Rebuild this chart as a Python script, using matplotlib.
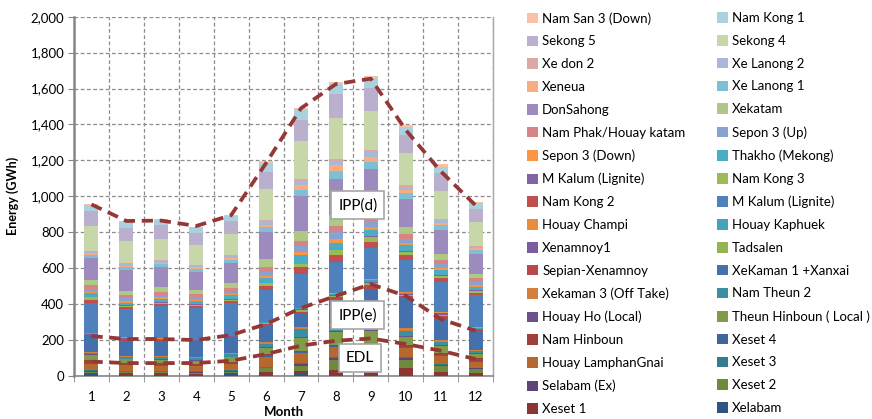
import matplotlib
matplotlib.use("Agg")
import matplotlib.pyplot as plt
from matplotlib.patches import Patch
from matplotlib.ticker import FuncFormatter, MultipleLocator
import numpy as np

plt.rcParams['font.family'] = ['Lato', 'DejaVu Sans']

months = ["1", "2", "3", "4", "5", "6", "7", "8", "9", "10", "11", "12"]

# Series values (GWh), stacked bottom -> top
xelabam = [11, 8, 8, 8, 9, 6, 11, 8, 8, 8, 8, 6]
xeset1 = [7, 6, 6, 5, 7, 18, 18, 28, 35, 37, 13, 9]
xeset2 = [6, 8, 7, 6, 8, 18, 28, 55, 55, 46, 37, 22]
selabam_ex = [4, 3, 3, 3, 4, 5, 9, 9, 9, 9, 6, 5]
xeset3 = [5, 4, 4, 4, 5, 5, 5, 6, 6, 5, 5, 4]
houay_lamphangnai = [33, 30, 30, 28, 32, 55, 55, 55, 55, 50, 43, 31]
xeset4 = [4, 4, 4, 4, 4, 5, 5, 5, 5, 5, 5, 4]
nam_hinboun = [18, 9, 9, 8, 10, 9, 7, 8, 10, 13, 9, 18]
theun_hinboun_local = [28, 20, 20, 18, 25, 35, 74, 70, 70, 46, 42, 24]
houay_ho_local = [4, 4, 4, 4, 4, 4, 4, 5, 5, 5, 4, 3]
nam_theun2 = [9, 10, 11, 10, 13, 18, 46, 35, 35, 28, 18, 14]
xekaman3 = [7, 7, 7, 6, 7, 13, 9, 6, 7, 13, 13, 3]
xekaman1_xanxai = [84, 83, 83, 87, 81, 89, 73, 140, 187, 172, 117, 100]
sepian_xenamnoy = [8, 8, 5, 4, 6, 9, 15, 12, 20, 11, 16, 11]
tadsalen = [3, 3, 2, 2, 3, 4, 6, 5, 8, 5, 6, 4]
xenamnoy1 = [3, 3, 2, 2, 2, 3, 6, 5, 10, 4, 6, 4]
houay_kaphuek = [3, 3, 2, 2, 2, 3, 5, 5, 8, 4, 5, 4]
houay_champi = [2, 2, 2, 1, 2, 3, 5, 4, 6, 4, 4, 4]
m_kalum_a = [170, 157, 182, 176, 182, 176, 186, 171, 172, 179, 169, 180]
nam_kong2 = [15, 10, 10, 11, 10, 22, 37, 43, 37, 30, 19, 11]
nam_kong3 = [15, 8, 8, 7, 9, 15, 18, 26, 26, 17, 13, 13]
m_kalum_b = [3, 3, 3, 3, 3, 3, 3, 3, 3, 3, 3, 3]
thakho = [18, 15, 17, 19, 22, 28, 46, 37, 33, 33, 28, 19]
sepon3_down = [5, 9, 8, 7, 6, 13, 18, 24, 18, 11, 13, 9]
sepon3_up = [22, 15, 15, 14, 13, 20, 37, 37, 33, 26, 20, 19]
nam_phak = [22, 17, 18, 16, 22, 28, 28, 31, 30, 28, 26, 22]
xekatam = [24, 25, 26, 23, 29, 43, 53, 61, 37, 40, 30, 21]
donsahong = [123, 115, 111, 102, 108, 154, 195, 204, 226, 155, 135, 114]
xe_lanong1 = [17, 15, 15, 14, 18, 24, 33, 42, 37, 30, 26, 19]
xeneua = [9, 10, 9, 10, 11, 15, 28, 32, 30, 18, 15, 10]
xe_lanong2 = [9, 9, 8, 8, 11, 18, 20, 22, 26, 17, 14, 9]
xe_don2 = [5, 5, 5, 5, 6, 8, 12, 12, 10, 9, 8, 5]
sekong4 = [139, 124, 121, 113, 119, 174, 212, 231, 217, 182, 156, 133]
sekong5 = [84, 74, 76, 64, 70, 92, 117, 130, 130, 101, 96, 74]
nam_kong1 = [33, 32, 30, 33, 25, 52, 54, 60, 54, 42, 38, 33]
nam_san3_down = [5, 5, 5, 5, 6, 9, 15, 10, 10, 10, 12, 6]

# Dashed boundary lines
ipp_d_line = [955, 863, 865, 835, 895, 1185, 1490, 1625, 1655, 1370, 1140, 950]
ipp_e_line = [222, 206, 206, 200, 228, 289, 378, 446, 511, 446, 317, 252]
edl_line = [80, 72, 72, 72, 85, 122, 169, 196, 209, 178, 141, 94]

series = [
    ("Xelabam", xelabam, "#2F5587"),
    ("Xeset 1", xeset1, "#8B3634"),
    ("Xeset 2", xeset2, "#6F8A3C"),
    ("Selabam (Ex)", selabam_ex, "#5D4677"),
    ("Xeset 3", xeset3, "#327D8E"),
    ("Houay LamphanGnai", houay_lamphangnai, "#B5692E"),
    ("Xeset 4", xeset4, "#3F679B"),
    ("Nam Hinboun", nam_hinboun, "#A0403D"),
    ("Theun Hinboun ( Local )", theun_hinboun_local, "#7F9D48"),
    ("Houay Ho (Local)", houay_ho_local, "#6B528D"),
    ("Nam Theun 2", nam_theun2, "#3C8FA3"),
    ("Xekaman 3 (Off Take)", xekaman3, "#D4803C"),
    ("XeKaman 1 +Xanxai", xekaman1_xanxai, "#4471AC"),
    ("Sepian-Xenamnoy", sepian_xenamnoy, "#B8494A"),
    ("Tadsalen", tadsalen, "#94B352"),
    ("Xenamnoy1", xenamnoy1, "#7A5E9E"),
    ("Houay Kaphuek", houay_kaphuek, "#44A2BA"),
    ("Houay Champi", houay_champi, "#EB8B3E"),
    ("M Kalum (Lignite)", m_kalum_a, "#4F81BD"),
    ("Nam Kong 2", nam_kong2, "#C0504D"),
    ("Nam Kong 3", nam_kong3, "#9BBB59"),
    ("M Kalum (Lignite)", m_kalum_b, "#8064A2"),
    ("Thakho (Mekong)", thakho, "#4BACC6"),
    ("Sepon 3 (Down)", sepon3_down, "#F79646"),
    ("Sepon 3 (Up)", sepon3_up, "#88A2D2"),
    ("Nam Phak/Houay katam", nam_phak, "#D68584"),
    ("Xekatam", xekatam, "#AEC886"),
    ("DonSahong", donsahong, "#9E8BBE"),
    ("Xe Lanong 1", xe_lanong1, "#7DC0D4"),
    ("Xeneua", xeneua, "#F9AC7F"),
    ("Xe Lanong 2", xe_lanong2, "#A9B8D9"),
    ("Xe don 2", xe_don2, "#D9A8A7"),
    ("Sekong 4", sekong4, "#C7D7AA"),
    ("Sekong 5", sekong5, "#BAB0CD"),
    ("Nam Kong 1", nam_kong1, "#A9D1DE"),
    ("Nam San 3 (Down)", nam_san3_down, "#F9C2A6"),
]

fig = plt.figure(figsize=(8.72, 4.19), dpi=100)
ax = fig.add_axes([74 / 872, 1 - 376 / 419, 419 / 872, (376 - 16.7) / 419])

x = np.arange(len(months))
bottom = np.zeros(len(months))
handles = []
for name, vals, col in series:
    v = np.array(vals, dtype=float)
    ax.bar(x, v, 0.4, bottom=bottom, color=col, linewidth=0, zorder=3)
    bottom += v
    handles.append(Patch(facecolor=col, edgecolor='none', label=name))

line_col = "#953735"
for ln in (ipp_d_line, ipp_e_line, edl_line):
    ax.plot(x, ln, color=line_col, lw=2.7, dashes=(3.0, 1.8), zorder=5)

box = dict(boxstyle="square,pad=0.45", facecolor="white", edgecolor="#A6A6A6", lw=1.2)
ax.text(7.63, 950, "IPP(d)", ha="center", va="center", fontsize=11, bbox=box, zorder=6)
ax.text(7.62, 339, "IPP(e)", ha="center", va="center", fontsize=11, bbox=box, zorder=6)
ax.text(7.69, 100, "EDL", ha="center", va="center", fontsize=11, bbox=box, zorder=6)

ax.set_xlim(-0.5, 11.5)
ax.set_ylim(0, 2000)
ax.yaxis.set_major_locator(MultipleLocator(200))
ax.yaxis.set_major_formatter(FuncFormatter(lambda v, p: f"{int(v):,}"))
ax.set_xticks(x)
ax.set_xticklabels(months)
ax.set_xticks(np.arange(-0.5, 12, 1), minor=True)
ax.tick_params(axis='x', which='major', length=0, labelsize=9.5, pad=11)
ax.tick_params(axis='x', which='minor', length=4, color='#868686', direction='out')
ax.tick_params(axis='y', which='major', length=4, color='#868686', labelsize=9.5, pad=3)

grid_kw = dict(color='#8C8C8C', linestyle=(0, (3, 2)), lw=0.9, zorder=1)
ax.yaxis.grid(True, which='major', **grid_kw)
ax.xaxis.grid(True, which='minor', **grid_kw)
ax.xaxis.grid(False, which='major')
ax.set_axisbelow(True)

ax.spines['top'].set_visible(False)
ax.spines['left'].set_color('#868686')
ax.spines['left'].set_linewidth(1.8)
ax.spines['bottom'].set_color('#868686')
ax.spines['bottom'].set_linewidth(1.2)
ax.spines['right'].set_color('#A6A6A6')
ax.spines['right'].set_linewidth(1.0)

ax.set_ylabel("Energy (GWh)", fontsize=9, fontweight='bold', labelpad=8)
ax.set_xlabel("Month", fontsize=9.5, fontweight='bold', labelpad=2)

# Legend (Excel style: reversed order, row-wise two columns)
rev = handles[::-1]
left_col = rev[0::2]
right_col = rev[1::2]
leg_kw = dict(frameon=False, fontsize=9.5, handlelength=0.85, handleheight=0.85,
              handletextpad=0.3, labelspacing=0.82, borderpad=0, borderaxespad=0,
              loc='upper left')
leg1 = fig.legend(handles=left_col, bbox_to_anchor=(527 / 872, 1 - 12 / 419), **leg_kw)
leg2 = fig.legend(handles=right_col, bbox_to_anchor=(717 / 872, 1 - 12 / 419), **leg_kw)

fig.savefig("out.png", dpi=100)
